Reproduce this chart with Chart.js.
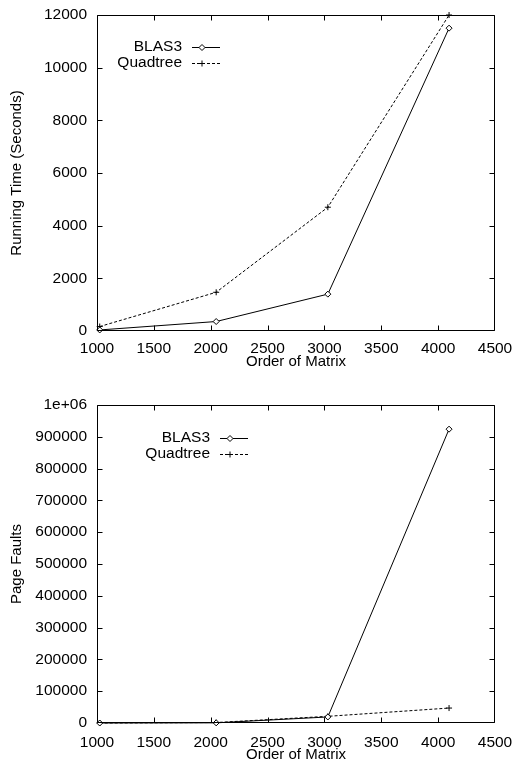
<!DOCTYPE html>
<html>
<head>
<meta charset="utf-8">
<script src="https://cdn.jsdelivr.net/npm/chart.js@4.4.1/dist/chart.umd.min.js"></script>
<style>
  body { margin: 0; background: #fff; width: 515px; height: 764px; overflow: hidden; }
  .grafico { position: absolute; left: 0; width: 515px; height: 382px; }
</style>
</head>
<body>
<div class="grafico" style="top:0"><canvas id="graficoTempo" width="515" height="382"></canvas></div>
<div class="grafico" style="top:382px"><canvas id="graficoFaltas" width="515" height="382"></canvas></div>
<script>
// Dados
const ordens = [1024, 2048, 3030, 4096];
const tempoBlas = [40, 360, 1400, 11500];
const tempoQuad = [170, 1470, 4700, 12000];
const faltasBlas = [0, 500, 19000, 924000];
const faltasQuad = [0, 1500, 21000, 47000];

const ticksX = [1000, 1500, 2000, 2500, 3000, 3500, 4000, 4500];
const ticksTempo = [0, 2000, 4000, 6000, 8000, 10000, 12000];
const ticksFaltas = [0, 100000, 200000, 300000, 400000, 500000, 600000, 700000, 800000, 900000, 1000000];
const rotulosFaltas = ['0', '100000', '200000', '300000', '400000', '500000', '600000', '700000', '800000', '900000', '1e+06'];

const fonte = "'Liberation Sans', Arial, Helvetica, sans-serif";

function desenharMarcador(ctx, estilo, x, y, r) {
  ctx.beginPath();
  if (estilo === 'rectRot') {
    ctx.moveTo(x, y - r);
    ctx.lineTo(x + r, y);
    ctx.lineTo(x, y + r);
    ctx.lineTo(x - r, y);
    ctx.closePath();
    ctx.fillStyle = '#fff';
    ctx.fill();
  } else {
    ctx.moveTo(x - r, y); ctx.lineTo(x + r, y);
    ctx.moveTo(x, y - r); ctx.lineTo(x, y + r);
  }
  ctx.stroke();
}

// Moldura com ticks para dentro (estilo gnuplot) + legenda
const bordaGnuplot = {
  id: 'bordaGnuplot',
  afterDraw(chart, args, opts) {
    const { ctx, chartArea: a } = chart;
    const sx = chart.scales.x, sy = chart.scales.y;
    const esq = Math.round(a.left) + 0.5, dir = Math.round(a.right) - 0.5;
    const topo = Math.round(a.top) + 0.5, base = Math.round(a.bottom) - 0.5;
    ctx.save();
    ctx.strokeStyle = '#000';
    ctx.lineWidth = 1;
    ctx.beginPath();
    ctx.rect(esq, topo, dir - esq, base - topo);
    sx.ticks.forEach(t => {
      const px = Math.min(Math.round(sx.getPixelForValue(t.value)) + 0.5, dir);
      ctx.moveTo(px, base); ctx.lineTo(px, base - 5);
      ctx.moveTo(px, topo); ctx.lineTo(px, topo + 5);
    });
    sy.ticks.forEach(t => {
      const py = Math.max(Math.min(Math.round(sy.getPixelForValue(t.value)) + 0.5, base), topo);
      ctx.moveTo(esq, py); ctx.lineTo(esq + 5, py);
      ctx.moveTo(dir, py); ctx.lineTo(dir - 5, py);
    });
    ctx.stroke();

    // legenda
    ctx.font = '15.5px ' + fonte;
    ctx.textAlign = 'right';
    ctx.textBaseline = 'middle';
    chart.data.datasets.forEach((ds, i) => {
      const y = opts.y + i * 16;
      ctx.fillStyle = '#000';
      ctx.fillText(ds.label, opts.x, y);
      ctx.setLineDash(ds.borderDash || []);
      ctx.beginPath();
      ctx.moveTo(opts.x + 10, y + 0.5);
      ctx.lineTo(opts.x + 38, y + 0.5);
      ctx.stroke();
      ctx.setLineDash([]);
      desenharMarcador(ctx, ds.pointStyle, opts.x + 20, y + 0.5, 3);
    });
    ctx.restore();
  }
};

function criarGrafico(id, blas, quad, ticksY, rotulosY, tituloY, cfg) {
  return new Chart(document.getElementById(id), {
    type: 'line',
    data: {
      datasets: [
        {
          label: 'BLAS3',
          data: ordens.map((o, i) => ({ x: o, y: blas[i] })),
          borderColor: '#000', borderWidth: 1,
          pointStyle: 'rectRot', pointRadius: 3, pointBorderWidth: 1,
          pointBackgroundColor: '#fff', pointBorderColor: '#000',
          tension: 0, clip: false
        },
        {
          label: 'Quadtree',
          data: ordens.map((o, i) => ({ x: o, y: quad[i] })),
          borderColor: '#000', borderWidth: 1, borderDash: [3, 2],
          pointStyle: 'cross', pointRadius: 3, pointBorderWidth: 1,
          pointBorderColor: '#000',
          tension: 0, clip: false
        }
      ]
    },
    options: {
      responsive: false,
      animation: false,
      devicePixelRatio: 1,
      layout: { padding: cfg.padding },
      plugins: {
        legend: { display: false },
        tooltip: { enabled: false },
        bordaGnuplot: cfg.legenda
      },
      scales: {
        x: {
          type: 'linear', min: 1000, max: 4500,
          afterBuildTicks: s => { s.ticks = ticksX.map(v => ({ value: v })); },
          afterFit: s => { s.height = cfg.alturaX; s.paddingLeft = 0; s.paddingRight = 0; },
          grid: { display: false, drawTicks: false },
          border: { display: false },
          ticks: { padding: cfg.padTicks, color: '#000', font: { family: fonte, size: 15.5 }, maxRotation: 0, callback: v => String(v) },
          title: { display: true, text: 'Order of Matrix', color: '#000', font: { family: fonte, size: 15 }, padding: { top: 0, bottom: cfg.padTitulo } }
        },
        y: {
          type: 'linear', min: 0, max: ticksY[ticksY.length - 1],
          afterBuildTicks: s => { s.ticks = ticksY.map(v => ({ value: v })); },
          afterFit: s => { s.width = 97; s.paddingTop = 0; s.paddingBottom = 0; },
          grid: { display: false, drawTicks: false },
          border: { display: false },
          ticks: { padding: 10, color: '#000', font: { family: fonte, size: 15.5 }, callback: (v, i) => rotulosY[i] },
          title: { display: true, text: tituloY, color: '#000', font: { family: fonte, size: 15 }, padding: { top: 8, bottom: 0 } }
        }
      }
    },
    plugins: [bordaGnuplot]
  });
}

criarGrafico('graficoTempo', tempoBlas, tempoQuad, ticksTempo, ticksTempo.map(String), 'Running Time (Seconds)', {
  padding: { top: 15, right: 20, bottom: 9, left: 0 },
  alturaX: 42,
  padTicks: 8,
  padTitulo: 2,
  legenda: { x: 182, y: 47 }
});

criarGrafico('graficoFaltas', faltasBlas, faltasQuad, ticksFaltas, rotulosFaltas, 'Page Faults', {
  padding: { top: 23, right: 20, bottom: 0, left: 0 },
  alturaX: 41,
  padTicks: 10,
  padTitulo: 0,
  legenda: { x: 210, y: 56 }
});
</script>
</body>
</html>
